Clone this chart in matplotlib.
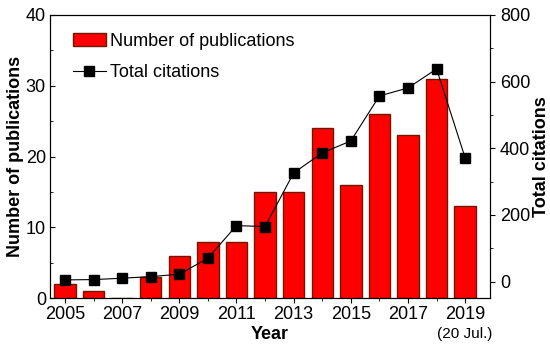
import matplotlib.pyplot as plt
from matplotlib.transforms import blended_transform_factory

plt.rcParams['font.family'] = ['Liberation Sans', 'DejaVu Sans']

# Data
years = list(range(2005, 2020))
publications = [2, 1, 0, 3, 6, 8, 8, 15, 15, 24, 16, 26, 23, 31, 13]
citations = [5, 6, 10, 15, 22, 70, 168, 165, 326, 386, 422, 557, 581, 638, 371]

fig, ax = plt.subplots(figsize=(5.5, 3.48), dpi=100)
fig.subplots_adjust(left=0.091, right=0.891, top=0.957, bottom=0.143)

# Bars for the number of publications
bars = ax.bar(years, publications, width=0.75, color='#ff0000',
              edgecolor='#6b1a00', linewidth=1.0, label='Number of publications')
ax.set_xlim(2004.48, 2019.87)
ax.set_ylim(0, 40)
ax.set_yticks([0, 10, 20, 30, 40])
ax.set_yticks([5, 15, 25, 35], minor=True)
ax.set_xticks(range(2005, 2020, 2))
ax.set_xticks(range(2006, 2020, 2), minor=True)
ax.tick_params(axis='y', which='both', direction='in', labelsize=13, pad=3)
ax.tick_params(axis='x', which='both', direction='out', labelsize=13, pad=2)
ax.set_xlabel('Year', fontsize=13, fontweight='bold', labelpad=2)
ax.set_ylabel('Number of publications', fontsize=13, fontweight='bold', labelpad=1)

# "(20 Jul.)" note below the 2019 tick
trans = blended_transform_factory(ax.transData, ax.transAxes)
ax.text(2019, -0.127, '(20 Jul.)', transform=trans, ha='center', va='center', fontsize=11)

# Total citations on the right axis
ax2 = ax.twinx()
line, = ax2.plot(years, citations, color='black', linewidth=0.8, marker='s',
                 markersize=6.5, markerfacecolor='black', label='Total citations')
ax2.set_ylim(-50, 800)
ax2.set_yticks([0, 200, 400, 600, 800])
ax2.set_yticks([100, 300, 500, 700], minor=True)
ax2.tick_params(axis='y', which='both', direction='out', labelsize=13)
ax2.set_ylabel('Total citations', fontsize=13, fontweight='bold', labelpad=2)

ax.legend([bars, line], ['Number of publications', 'Total citations'],
          loc='upper left', bbox_to_anchor=(0.028, 0.975), frameon=False,
          fontsize=13, handlelength=1.8, handletextpad=0.25,
          borderaxespad=0.2, labelspacing=0.8)

fig.savefig('out.png', dpi=100)
